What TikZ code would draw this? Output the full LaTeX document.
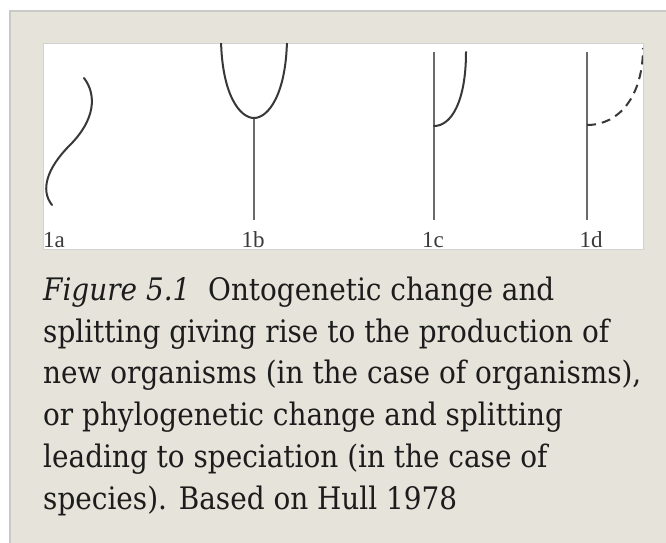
\documentclass[tikz,border=0pt]{standalone}
\usepackage{fontspec}
\newfontfamily\capfont[FakeStretch=0.9]{DejaVu Serif}
\newfontfamily\labfont{Liberation Serif}
\definecolor{beige}{HTML}{E6E3DA}
\definecolor{bordercol}{HTML}{C9C9C6}
\definecolor{panelborder}{HTML}{D2D2D0}
\definecolor{curvecol}{HTML}{383838}
\definecolor{stemcol}{HTML}{6A6A6A}
\definecolor{labcol}{HTML}{3A3A3A}
\definecolor{captext}{HTML}{1C1C1C}
\begin{document}
\begin{tikzpicture}[x=1pt,y=-1pt,
  curve/.style={line width=2pt, draw=curvecol, line cap=round},
  stem/.style={line width=2pt, draw=stemcol},
  dashcurve/.style={line width=2pt, draw=curvecol, dash pattern=on 9pt off 6pt},
  lab/.style={font=\labfont\fontsize{23}{23}\selectfont, text=labcol, inner sep=0pt},
  capline/.style={font=\capfont\fontsize{31}{40}\selectfont, anchor=base west, inner sep=0pt, text=captext}]
\useasboundingbox (0,0) rectangle (666,542);
\fill[white] (0,0) rectangle (666,542);
\fill[beige] (10,11) rectangle (667,543);
\draw[bordercol, line width=1.5pt] (10,543) -- (10,11) -- (667,11);
\fill[white] (43,43) rectangle (643,249);
\draw[panelborder, line width=1pt] (43,43) rectangle (643,249);

% named points
\coordinate (atop) at (84,78);
\coordinate (abot) at (52,205);
\coordinate (bl) at (221,40);
\coordinate (br) at (287,40);
\coordinate (bfork) at (254,118);
\coordinate (bbot) at (254,220);
\coordinate (ctop) at (434,52);
\coordinate (cfork) at (434,126);
\coordinate (cbot) at (434,220);
\coordinate (cbranch) at (466,52);
\coordinate (dtop) at (587,52);
\coordinate (dfork) at (587,125);
\coordinate (dbot) at (587,220);
\coordinate (dbranch) at (643,48);

\begin{scope}
\clip (43,43) rectangle (643,249);
% 1a
\draw[curve] (atop) .. controls (97,95) and (95,120) .. (70,145)
  .. controls (47,168) and (40,190) .. (abot);
% 1b
\draw[stem] (bfork) -- (bbot);
\draw[curve] (bl) .. controls (222,95) and (240,118) .. (bfork)
  .. controls (268,118) and (286,95) .. (br);
% 1c
\draw[stem] (ctop) -- (cbot);
\draw[curve] (cfork) .. controls (452,126) and (466,100) .. (cbranch);
% 1d
\draw[stem] (dtop) -- (dbot);
\draw[dashcurve] (dfork) .. controls (620,125) and (643,95) .. (dbranch);
\end{scope}

% labels
\node[lab, anchor=base west] (la) at (43,247) {1a};
\node[lab, anchor=base] (lb) at (253,247) {1b};
\node[lab, anchor=base] (lc) at (433,247) {1c};
\node[lab, anchor=base] (ld) at (591,247) {1d};

% caption
\node[capline] (c1) at (43,300) {\itshape Figure 5.1\upshape\ \ Ontogenetic change and};
\node[capline] (c2) at (43,342) {splitting giving rise to the production of};
\node[capline] (c3) at (43,383) {new organisms (in the case of organisms),};
\node[capline] (c4) at (43,425) {or phylogenetic change and splitting};
\node[capline] (c5) at (43,467) {leading to speciation (in the case of};
\node[capline] (c6) at (43,509) {species). Based on Hull 1978};
\end{tikzpicture}
\end{document}
